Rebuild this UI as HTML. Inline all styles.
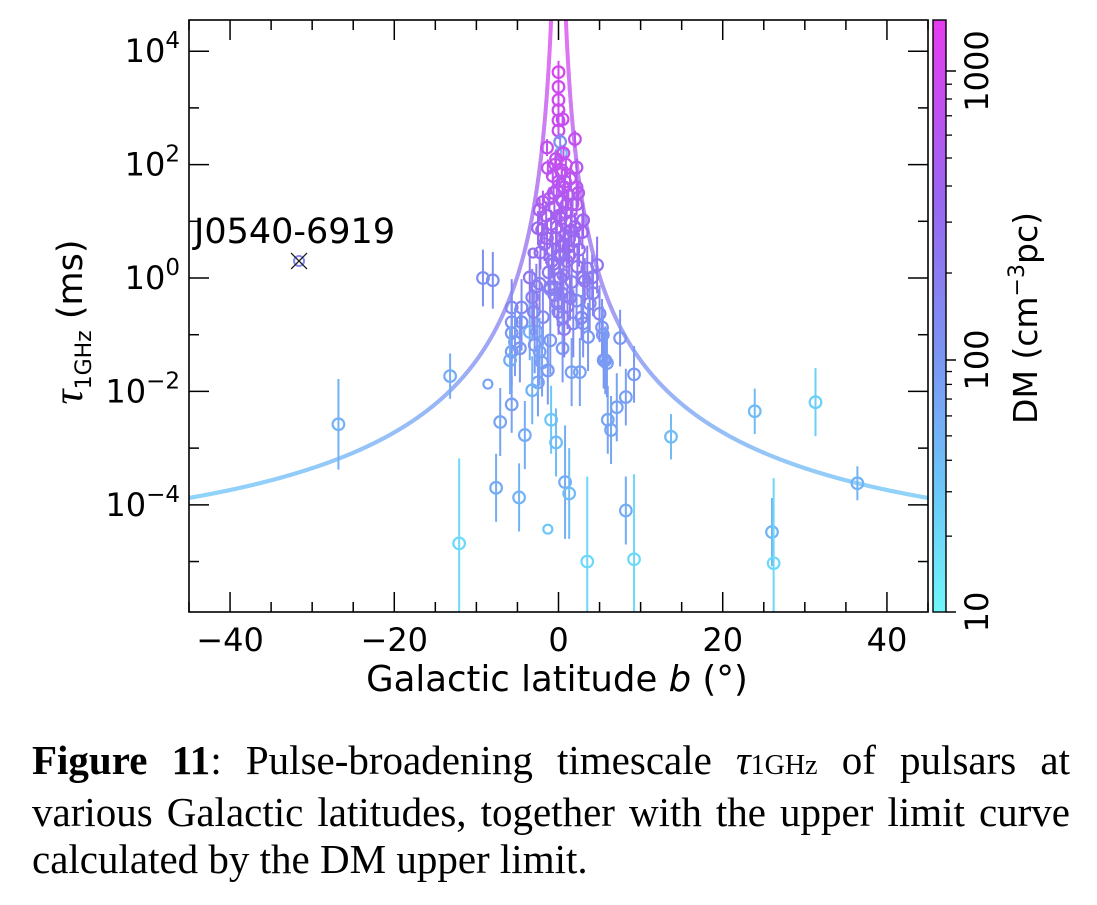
<!DOCTYPE html>
<html><head><meta charset="utf-8"><style>
body{margin:0;background:#fff;width:1097px;height:905px;overflow:hidden}
svg text{font-family:"DejaVu Sans","Liberation Sans",sans-serif}
.cap{position:absolute;left:32px;top:737px;width:1038px;font-family:"Liberation Serif",serif;font-size:41px;line-height:47px;color:#000;text-align:justify}
</style></head><body>
<svg id="chart" width="1097" height="720" style="position:absolute;left:0;top:0">
<defs><linearGradient id="cg" x1="0" y1="1" x2="0" y2="0">
<stop offset="0" stop-color="#6ff6fa"/><stop offset="0.2" stop-color="#6cc8f8"/><stop offset="0.45" stop-color="#7c92f2"/><stop offset="0.7" stop-color="#9a66f0"/><stop offset="1" stop-color="#e63cf0"/></linearGradient>
<clipPath id="pc"><rect x="189" y="20" width="739" height="592"/></clipPath></defs>
<g id="curve" clip-path="url(#pc)" opacity="0.75"></g>
<g id="pts" clip-path="url(#pc)"></g>
<rect x="189" y="20" width="739" height="592" fill="none" stroke="#000" stroke-width="1.6"/>
<g id="ticks"></g>
<text x="557" y="691" font-size="35.5" text-anchor="middle">Galactic latitude <tspan font-style="italic">b</tspan> (°)</text>
<text transform="translate(82,322) rotate(-90)" font-size="35" text-anchor="middle"><tspan font-style="italic" font-family="Liberation Serif" font-size="42">τ</tspan><tspan font-size="22" dy="9">1GHz</tspan><tspan dy="-9"> (ms)</tspan></text>
<rect x="933" y="20" width="13" height="592" fill="url(#cg)" stroke="#000" stroke-width="1.4"/>
<g id="cbt"></g>
<text transform="translate(1037,318) rotate(-90)" font-size="33" text-anchor="middle">DM (cm<tspan font-size="22" dy="-13">−3</tspan><tspan dy="13">pc)</tspan></text>
<text x="194" y="243" font-size="35">J0540-6919</text>
</svg>
<div class="cap"><b>Figure 11</b>: Pulse-broadening timescale <i>τ</i><span style="font-size:28px">1GHz</span> of pulsars at various Galactic latitudes, together with the upper limit curve calculated by the DM upper limit.</div>
<script>
const latB=[-26.8,-13.2,-8.6,-9.2,-8.0,-7.1,-7.6,-4.8,-4.1,-5.7,-12.1,-1.3,-0.9,-0.3,0.8,1.3,3.5,8.2,9.2,6.0,6.4,7.1,8.2,9.2,7.5,5.5,13.7,23.9,31.3,26.0,26.2,36.4,
0,0,0,0,0,0,0.5,2.0,-1.4,-1.3,2.2,0.4,2.2,2.4,-1.9,-2.3,2.2,3.0,-2.5,2.9,-1.4,1.6,-3.1,1.2,0.2,-3.5,4.7,3.5,3.0,4.1,-2.3,1.6,-1.0,0.4,-3.2,4.2,-5.7,-4.5,2.2,3.8,5.0,-5.7,-4.5,-1.9,0.5,1.8,3.0,5.3,-5.7,-3.5,-2.6,-1.0,3.6,5.4,-5.3,-4.7,0.5,-5.7,-2.9,-2.3,-5.9,-2.0,5.7,5.9,-1.3,1.6,2.6,-2.5,-3.2,
0.3,-0.4,0.8,-0.6,1.0,0.1,-0.2,0.6,1.3,-0.8,0.2,-0.5,1.1,0.0,-1.0,0.7,
0.2,0.6,-0.3,0.9,0.4,-0.7,1.4,0.0,0.7,-0.2,1.2,-1.1,0.5,1.7,-0.5,0.9,-1.5,0.3,1.5,-0.9,2.0,-2.0,0.8,-0.3,1.9,-1.7,2.5,-2.2,0.1,1.0,-0.6,2.3,-1.2,0.6,3.2,-2.7,1.4,-0.1,-3.0,2.8];
const logTau=[-2.58,-1.73,-1.87,0.0,-0.04,-2.54,-3.7,-3.87,-2.77,-2.23,-4.68,-4.43,-2.5,-2.9,-3.6,-3.8,-5.0,-4.1,-4.96,-2.5,-2.68,-2.28,-2.1,-1.7,-1.06,-1.45,-2.8,-2.35,-2.19,-4.48,-5.03,-3.62,
3.63,3.37,3.14,2.96,2.78,2.6,2.8,2.45,2.3,1.94,1.95,1.85,1.6,1.5,1.34,1.2,1.3,1.02,0.88,0.81,0.7,0.84,0.44,0.55,0.37,0.01,0.23,0.17,0.01,0.01,-0.1,-0.07,-0.16,-0.27,-0.34,-0.27,-0.52,-0.52,-0.4,-0.45,-0.63,-0.78,-0.78,-0.69,-0.69,-0.8,-0.8,-0.87,-0.97,-0.95,-0.95,-1.1,-1.04,-1.0,-1.13,-1.24,-1.24,-1.3,-1.18,-1.3,-1.45,-1.49,-1.45,-1.5,-1.63,-1.66,-1.66,-1.84,-1.98,
2.2,2.0,1.7,1.5,1.3,1.1,0.9,0.6,0.4,0.3,0.0,-0.3,-0.5,-0.6,-0.2,-0.9,
2.4,2.2,2.1,2.0,1.9,1.8,1.75,1.7,1.6,1.55,1.45,1.4,1.35,1.3,1.25,1.15,1.1,1.05,1.0,0.95,0.9,0.85,0.75,0.7,0.65,0.6,0.5,0.45,0.4,0.3,0.25,0.2,0.1,0.05,-0.05,-0.15,-0.35,-0.45,-0.6,-0.7];
const dm=[50,60,70,120,120,70,60,50,60,80,20,30,30,40,60,40,20,60,20,70,70,75,80,90,100,100,40,40,25,50,20,50,
1100,1000,1000,950,900,900,850,800,800,700,650,700,600,600,550,500,550,400,350,400,400,350,300,300,300,250,250,250,200,200,180,200,200,170,160,180,150,150,120,150,150,120,120,140,130,130,110,110,100,60,90,100,100,100,90,100,90,90,100,80,60,80,90,90,90,80,80,80,50,50,
700,650,600,550,500,450,400,350,300,280,250,200,180,160,200,130,
900,800,800,750,700,700,650,650,600,600,550,550,500,500,500,450,450,450,400,400,400,350,350,350,300,300,300,280,260,250,250,230,220,220,200,200,180,170,150,150];
const errDec=[0.8,0.4,0,0.5,0.5,0.6,0.6,0.6,0.6,0.5,1.5,0,0.6,0.6,1.0,0.8,1.5,0.6,1.5,0.6,0.6,0.6,0.5,0.5,0.5,0.5,0.4,0.4,0.6,0.6,1.5,0.3,
0.2,0.15,0.15,0.15,0.15,0.15,0.15,0.15,0.15,0.15,0.15,0.15,0.2,0.2,0.2,0.2,0.2,0.3,0.3,0.3,0.3,0.3,0,0.3,0.3,0.5,0.5,0.4,0.4,0.4,0.5,0.4,0.4,0.4,0.5,0.4,0.5,0.5,0.5,0.5,0.5,0.5,0.5,0.5,0.5,0.6,0.6,0.5,0.5,0.5,0.5,0.6,0.6,0.5,0.6,0.6,0.6,0.6,0.5,0.6,0.6,0.6,0.6,0.6,0.6,0.6,0.6,0.6,0.6,
0.15,0.15,0.2,0.2,0.2,0.2,0.3,0.3,0.3,0.3,0.4,0.4,0.4,0.4,0.4,0.5,
0.15,0.15,0.15,0.15,0.15,0.15,0.15,0.15,0.2,0.2,0.2,0.2,0.2,0.2,0.2,0.2,0.25,0.25,0.25,0.25,0.25,0.25,0.3,0.3,0.3,0.3,0.3,0.3,0.3,0.35,0.35,0.35,0.35,0.35,0.4,0.4,0.4,0.4,0.4,0.4];
const xTicks=[-40,-20,0,20,40];
const yTicks=[4,2,0,-2,-4];
const cbTicks=[10,100,1000];
const NS='http://www.w3.org/2000/svg';
const X=b=>189+(b+45)/90*739;
const Y=l=>20+(4.55-l)/(4.55+5.89)*592;
const CB=d=>{const l=Math.log10(d);return l>=2?360-(l-2)*289:360+(2-l)*252;};
const stops=[[0,[111,246,250]],[0.2,[108,200,248]],[0.45,[124,146,242]],[0.7,[154,102,240]],[1,[230,60,240]]];
function col(d){let t=(612-CB(d))/592;t=Math.max(0,Math.min(1,t));for(let i=1;i<stops.length;i++){if(t<=stops[i][0]){const a=stops[i-1],c=stops[i],f=(t-a[0])/(c[0]-a[0]);return 'rgb('+a[1].map((v,k)=>Math.round(v+(c[1][k]-v)*f)).join(',')+')';}}return 'rgb(230,60,240)';}
function mk(tag,at,parent){const e=document.createElementNS(NS,tag);for(const k in at)e.setAttribute(k,at[k]);parent.appendChild(e);return e;}
const cv=document.getElementById('curve');
const D0=21.5;
function tauL(b){const d=D0/Math.sin(Math.abs(b)*Math.PI/180),x=Math.log10(d);return -6.46+0.154*x+1.07*x*x;}
for(const s of [-1,1]){let prev=null;for(let i=0;i<=400;i++){const a=0.25+i*(45-0.25)/400,b=s*a;const p=[X(b),Y(tauL(b))];if(prev){const l=mk('line',{x1:prev[0],y1:prev[1],x2:p[0],y2:p[1],stroke:col(D0/Math.sin(a*Math.PI/180)),'stroke-width':4,'stroke-linecap':'round'},cv);}prev=p;}}
const pg=document.getElementById('pts');
for(let i=0;i<latB.length;i++){const x=X(latB[i]),y=Y(logTau[i]),c=col(dm[i]);
if(errDec[i]>0){const e=mk('line',{x1:x,x2:x,y1:Y(logTau[i]+errDec[i]),y2:Y(logTau[i]-errDec[i]),stroke:c,'stroke-width':2},pg);}
const ci=mk('circle',{cx:x,cy:y,r:errDec[i]>0?5.8:4.5,fill:'none',stroke:c,'stroke-width':2.2},pg);

}
const jb=-31.6,jl=0.3,jx=X(jb),jy=Y(jl);
const jc=mk('circle',{cx:jx,cy:jy,r:5,fill:'none',stroke:col(146),'stroke-width':2},pg);


mk('path',{d:`M${jx-8} ${jy-8}L${jx+8} ${jy+8}M${jx-8} ${jy+8}L${jx+8} ${jy-8}`,stroke:'#222','stroke-width':1.3},pg);
const tg=document.getElementById('ticks');
for(let v=-45;v<=45;v+=5){const x=X(v),maj=xTicks.includes(v),L=maj?20:10;
mk('line',{x1:x,x2:x,y1:612,y2:612-L,stroke:'#000','stroke-width':1.5},tg);mk('line',{x1:x,x2:x,y1:20,y2:20+L,stroke:'#000','stroke-width':1.5},tg);}
for(const v of xTicks){const t=mk('text',{x:X(v),y:651,'font-size':32,'text-anchor':'middle'},tg);t.textContent=(v<0?'−':'')+Math.abs(v);}
for(let v=-5;v<=4;v++){const y=Y(v),maj=yTicks.includes(v),L=maj?20:10;
mk('line',{x1:189,x2:189+L,y1:y,y2:y,stroke:'#000','stroke-width':1.5},tg);mk('line',{x1:928,x2:928-L,y1:y,y2:y,stroke:'#000','stroke-width':1.5},tg);}
for(const v of yTicks){const t=mk('text',{x:180,y:Y(v)+11,'font-size':32,'text-anchor':'end'},tg);t.textContent='10';const s=mk('tspan',{dy:-14,'font-size':23},t);s.textContent=(v<0?'−':'')+Math.abs(v);}
const cg=document.getElementById('cbt');
for(const d of [20,30,40,50,60,70,80,90,200,300,400,500,600,700,800,900]){const y=CB(d);mk('line',{x1:946,x2:952,y1:y,y2:y,stroke:'#000','stroke-width':1.3},cg);}
for(const d of cbTicks){const y=Math.min(CB(d),612);mk('line',{x1:946,x2:956,y1:y,y2:y,stroke:'#000','stroke-width':1.5},cg);
const t=mk('text',{'font-size':32,'text-anchor':'middle',transform:`translate(988,${y}) rotate(-90)`},cg);t.textContent=d;}
</script>
</body></html>
